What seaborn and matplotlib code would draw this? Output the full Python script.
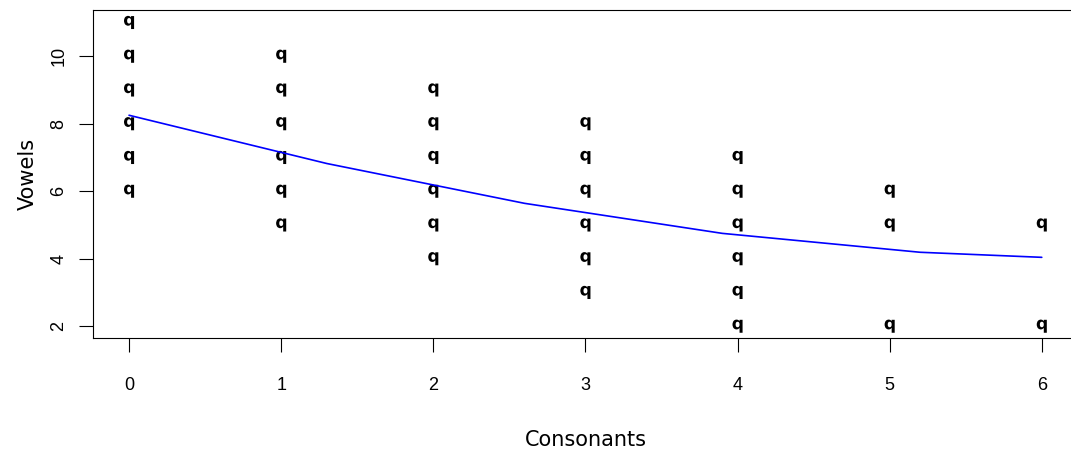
import numpy as np
import pandas as pd
import seaborn as sns
import matplotlib.pyplot as plt

# Letter counts per word: consonants vs vowels
consonants = [0, 0, 0, 0, 0, 0,
              1, 1, 1, 1, 1, 1,
              2, 2, 2, 2, 2, 2,
              3, 3, 3, 3, 3, 3,
              4, 4, 4, 4, 4, 4,
              5, 5, 5,
              6, 6]
vowels = [6, 7, 8, 9, 10, 11,
          5, 6, 7, 8, 9, 10,
          4, 5, 6, 7, 8, 9,
          3, 4, 5, 6, 7, 8,
          2, 3, 4, 5, 6, 7,
          2, 5, 6,
          2, 5]

# Smoothed trend of vowels against consonants
trend_x = [0.0, 1.3, 2.6, 3.9, 5.2, 6.0]
trend_y = [8.25, 6.82, 5.64, 4.75, 4.19, 4.04]

x_ticks = [0, 1, 2, 3, 4, 5, 6]
y_ticks = [2, 4, 6, 8, 10]

points = pd.DataFrame({"Consonants": consonants, "Vowels": vowels})
trend = pd.DataFrame({"Consonants": trend_x, "Vowels": trend_y})

sns.set_style("white")
plt.rcParams["font.family"] = ["DejaVu Sans"]
plt.rcParams["text.color"] = "black"
plt.rcParams["axes.labelcolor"] = "black"
plt.rcParams["xtick.color"] = "black"
plt.rcParams["ytick.color"] = "black"

fig = plt.figure(figsize=(10.71, 4.54), dpi=100)
ax = fig.add_axes([0.0864, 0.2548, 0.9204, 0.7225])

sns.scatterplot(data=points, x="Consonants", y="Vowels", ax=ax,
                marker=r"$\mathbf{q}$", s=90, color="black",
                edgecolor="none", linewidth=0)
sns.lineplot(data=trend, x="Consonants", y="Vowels", ax=ax,
             color="#0000ff", linewidth=1.2, estimator=None, sort=False)

ax.set_xlim(-0.24, 6.24)
ax.set_ylim(1.64, 11.36)
ax.set_xticks(x_ticks)
ax.set_yticks(y_ticks)
ax.set_xticklabels([str(v) for v in x_ticks], family="Liberation Sans", fontsize=13)
ax.set_yticklabels([str(v) for v in y_ticks], family="Liberation Sans", fontsize=13,
                   rotation=90, va="center")

ax.tick_params(axis="x", direction="out", length=10, width=0.8, color="black",
               labelcolor="black", pad=18, bottom=True)
ax.tick_params(axis="y", direction="out", length=10, width=0.8, color="black",
               labelcolor="black", pad=8, left=True)

for side in ["left", "right", "top", "bottom"]:
    ax.spines[side].set_visible(True)
    ax.spines[side].set_color("black")
    ax.spines[side].set_linewidth(0.8)

ax.set_xlabel("Consonants", fontsize=15, labelpad=26, color="black")
ax.set_ylabel("Vowels", fontsize=15, labelpad=9, color="black")
ax.grid(False)

fig.savefig("out.png", dpi=100)
